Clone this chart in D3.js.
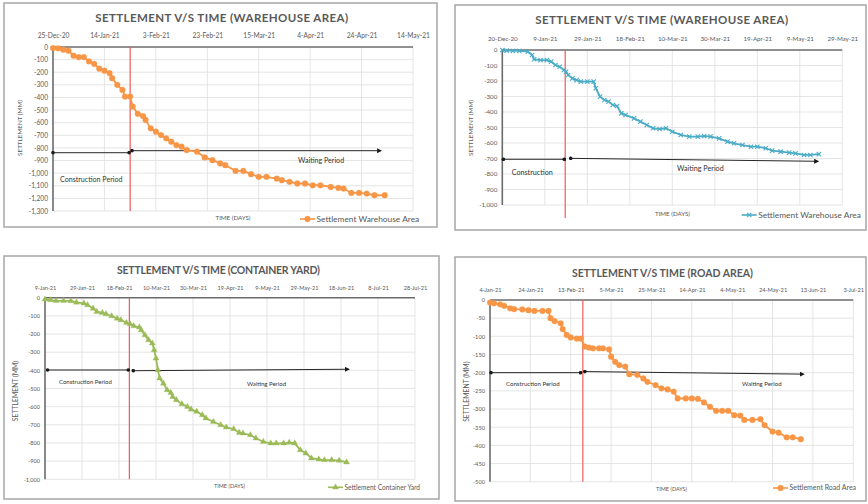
<!DOCTYPE html>
<html><head><meta charset="utf-8">
<script src="https://cdn.jsdelivr.net/npm/d3@7"></script>
<style>
body{margin:0;background:#fff}
svg{display:block}
text{font-family:Lato,"Open Sans",sans-serif}
</style>
</head><body>
<svg id="c" width="868" height="504"></svg>
<script>
// ---------------- DATA ----------------
// Panel 1: Warehouse area (orange)
const p1Title = "SETTLEMENT V/S TIME (WAREHOUSE AREA)";
const p1Series = "Settlement Warehouse Area";
const p1Ticks = ["25-Dec-20","14-Jan-21","3-Feb-21","23-Feb-21","15-Mar-21","4-Apr-21","24-Apr-21","14-May-21"];
const p1YDomain = [0, -1300, 100];
const p1Days = [0,2,4,6,8,10,12,14,16,18,20,22,23,25,27,28,30,31,33,35,36,38,40,42,44,46,48,50,52,56,59,62,65,67,71,74,77,80,83,87,89,92,95,98,101,104,108,111,113,116,119,122,125,129];
const p1Vals = [-8,-10,-21,-29,-69,-80,-80,-114,-133,-172,-188,-207,-247,-300,-340,-393,-393,-472,-530,-547,-578,-645,-671,-698,-724,-751,-777,-790,-817,-830,-875,-897,-923,-937,-982,-982,-1008,-1029,-1029,-1043,-1056,-1069,-1082,-1082,-1096,-1096,-1109,-1117,-1122,-1157,-1157,-1162,-1175,-1175];
const p1Split = 30;
const p1Periods = [["Construction Period",0,29.6,-838,-838],["Waiting Period",30.7,127.4,-822,-822]];

// Panel 2: Warehouse area (cyan)
const p2Title = "SETTLEMENT V/S TIME (WAREHOUSE AREA)";
const p2Series = "Settlement Warehouse Area";
const p2Ticks = ["20-Dec-20","9-Jan-21","29-Jan-21","18-Feb-21","10-Mar-21","30-Mar-21","19-Apr-21","9-May-21","29-May-21"];
const p2YDomain = [0, -1000, 100];
const p2Days = [0,2,5,8,12,14,15,18,21,23,25,27,29,30,31,33,35,37,40,43,44,46,48,50,52,54,56,58,62,65,68,71,74,77,80,84,88,92,95,98,102,106,109,113,117,120,124,127,131,135,138,142,145,149];
const p2Vals = [0,-4,-6,-6,-11,-32,-60,-65,-65,-75,-97,-108,-129,-140,-161,-183,-194,-204,-204,-204,-247,-301,-323,-333,-355,-361,-409,-419,-441,-462,-484,-505,-510,-505,-527,-548,-559,-559,-555,-559,-570,-591,-602,-613,-624,-624,-634,-649,-656,-662,-667,-677,-677,-672];
const p2Split = 29.6;
const p2Periods = [["Construction",0.5,29.2,-705,-705],["Waiting Period",32.2,148.4,-699,-718]];

// Panel 3: Container yard (green)
const p3Title = "SETTLEMENT V/S TIME (CONTAINER YARD)";
const p3Series = "Settlement Container Yard";
const p3Ticks = ["9-Jan-21","29-Jan-21","18-Feb-21","10-Mar-21","30-Mar-21","19-Apr-21","9-May-21","29-May-21","18-Jun-21","8-Jul-21","28-Jul-21"];
const p3YDomain = [0, -1000, 100];
const p3Days = [0,3,6,10,14,17,21,23,26,28,31,33,36,39,41,44,46,48,51,52,54,56,58,59,60,61,62,64,66,68,69,71,74,77,79,82,85,87,91,95,98,102,105,107,111,114,118,122,125,129,132,135,138,141,144,148,151,155,159,163];
const p3Vals = [-9,-13,-17,-17,-18,-26,-31,-40,-59,-77,-83,-90,-101,-114,-123,-138,-145,-156,-163,-178,-206,-233,-251,-288,-334,-398,-444,-472,-508,-523,-545,-563,-585,-600,-615,-627,-646,-664,-683,-701,-714,-723,-743,-747,-756,-774,-793,-802,-802,-802,-798,-802,-839,-857,-884,-890,-894,-894,-897,-906];
const p3Split = 45.6;
const p3Periods = [["Construction Period",1.4,45,-398,-398],["Waiting Period",47.7,164,-402,-394]];

// Panel 4: Road area (orange)
const p4Title = "SETTLEMENT V/S TIME (ROAD AREA)";
const p4Series = "Settlement Road Area";
const p4Ticks = ["4-Jan-21","24-Jan-21","13-Feb-21","5-Mar-21","25-Mar-21","14-Apr-21","4-May-21","24-May-21","13-Jun-21","3-Jul-21"];
const p4YDomain = [0, -500, 50];
const p4Days = [0,2,5,7,10,12,16,19,22,26,29,30,32,35,36,38,40,43,45,47,49,51,54,56,59,60,62,64,67,69,73,76,78,82,85,88,91,93,97,100,103,106,109,112,115,118,121,124,126,130,134,136,140,143,147,150,154];
const p4Vals = [-7,-9,-12,-16,-23,-25,-26,-28,-30,-30,-30,-50,-58,-64,-80,-96,-103,-106,-106,-128,-131,-133,-133,-133,-136,-156,-170,-179,-183,-204,-206,-216,-225,-234,-243,-246,-252,-271,-271,-271,-272,-282,-294,-305,-305,-305,-317,-318,-330,-330,-328,-344,-362,-365,-378,-378,-383];
const p4Split = 46;
const p4Periods = [["Construction Period",0.5,44.9,-200,-200],["Waiting Period",47,155.2,-197,-204]];

const yTitleText = "SETTLEMENT (MM)";
const xTitleText = "TIME (DAYS)";

// ---------------- LAYOUT ----------------
const panels = [
  {title:p1Title, series:p1Series, ticks:p1Ticks, yd:p1YDomain, days:p1Days, vals:p1Vals, split:p1Split, periods:p1Periods,
   color:"#f79646", marker:"circle",
   L:{box:[4,3,433,224], x0:53, x1:413, y0:47, y1:211, tickY:36, title:[221.7,17.5,253,11.5], yTitle:[20,128],
      xTitle:[233,217.5], legend:[300,219], redBottom:211, labels:[[60,180],[298,161]],
      fs:{tick:6.6,leg:8.4,lab:7.1,small:6.2,ytitle:6.3}}},
  {title:p2Title, series:p2Series, ticks:p2Ticks, yd:p2YDomain, days:p2Days, vals:p2Vals, split:p2Split, periods:p2Periods,
   color:"#4bacc6", marker:"x",
   L:{box:[455,5,411,225], x0:502.3, x1:842.3, y0:50, y1:205, tickY:39, title:[661.7,20,253,11.5], yTitle:[470.7,128],
      xTitle:[672.5,213.5], legend:[741.7,215], redBottom:218, labels:[[511.7,172],[677,168]],
      fs:{tick:6.2,leg:8.4,lab:7.2,small:6.2,ytitle:6.3}}},
  {title:p3Title, series:p3Series, ticks:p3Ticks, yd:p3YDomain, days:p3Days, vals:p3Vals, split:p3Split, periods:p3Periods,
   color:"#9bbb59", marker:"triangle",
   L:{box:[4,256,435,243], x0:45, x1:415, y0:297.7, y1:479.3, tickY:287.3, title:[218.5,270,203,10.5], yTitle:[16,391],
      xTitle:[229.5,486], legend:[328,487.3], redBottom:479.3, labels:[[59,381.7],[247,384]],
      fs:{tick:5.6,leg:6.6,lab:6,small:5.5,ytitle:6.8}}},
  {title:p4Title, series:p4Series, ticks:p4Ticks, yd:p4YDomain, days:p4Days, vals:p4Vals, split:p4Split, periods:p4Periods,
   color:"#f79646", marker:"circle",
   L:{box:[455,257,411,244], x0:490, x1:853.3, y0:300, y1:481.7, tickY:290, title:[662.5,273.3,181,10.5], yTitle:[466.7,391.7],
      xTitle:[671.5,488.7], legend:[773,488], redBottom:481.7, labels:[[506,384],[742,384]],
      fs:{tick:5.7,leg:7,lab:6.1,small:5.5,ytitle:6.8}}}
];

// ---------------- DRAW ----------------
const svg = d3.select("#c");
const parse = d3.utcParse("%d-%b-%y");
const fmtX = d3.utcFormat("%-d-%b-%y");
const fmtY = d3.formatLocale({decimal:".",thousands:",",grouping:[3],currency:["",""],minus:"-"}).format(",");
const DAY = 864e5;

const defs = svg.append("defs");
defs.append("marker").attr("id","arrowEnd").attr("viewBox","0 0 10 10").attr("refX",7).attr("refY",5)
  .attr("markerWidth",5).attr("markerHeight",5).attr("orient","auto")
  .append("path").attr("d","M0,0L10,5L0,10z").attr("fill","#1a1a1a");
defs.append("marker").attr("id","dot").attr("viewBox","0 0 10 10").attr("refX",5).attr("refY",5)
  .attr("markerWidth",4).attr("markerHeight",4)
  .append("circle").attr("cx",5).attr("cy",5).attr("r",4.5).attr("fill","#1a1a1a");

function symFor(m){
  if(m==="circle") return d3.symbol(d3.symbolCircle, 26);
  if(m==="x") return d3.symbol(d3.symbolTimes, 14);
  return d3.symbol(d3.symbolTriangle, 16);
}

panels.forEach(p => {
  const L = p.L;
  const g = svg.append("g");
  g.append("rect").attr("x",L.box[0]).attr("y",L.box[1]).attr("width",L.box[2]).attr("height",L.box[3])
    .attr("fill","#fff").attr("stroke","#a6a6a6").attr("stroke-width",1.5);

  const tickDates = p.ticks.map(parse);
  const start = tickDates[0];
  const toDate = d => new Date(start.getTime() + d*DAY);
  const x = d3.scaleUtc().domain([start, tickDates[tickDates.length-1]]).range([L.x0, L.x1]);
  const y = d3.scaleLinear().domain([p.yd[0], p.yd[1]]).range([L.y0, L.y1]);
  const yTicks = d3.range(p.yd[0], p.yd[1] - p.yd[2]/2, -p.yd[2]);

  // grid
  g.append("g").selectAll("line").data(yTicks.slice(1)).join("line")
    .attr("x1",L.x0).attr("x2",L.x1).attr("y1",d=>y(d)).attr("y2",d=>y(d))
    .attr("stroke","#dedede").attr("stroke-width",0.8);
  g.append("g").selectAll("line").data(tickDates.slice(1)).join("line")
    .attr("x1",d=>x(d)).attr("x2",d=>x(d)).attr("y1",L.y0).attr("y2",L.y1)
    .attr("stroke","#dedede").attr("stroke-width",0.8);

  // axes labels
  const xa = g.append("g").attr("transform",`translate(0,${L.y0})`)
    .call(d3.axisTop(x).tickValues(tickDates).tickFormat(fmtX).tickSize(0).tickPadding(L.y0-L.tickY-2.2));
  xa.select(".domain").remove();
  xa.selectAll("text").attr("fill","#595959").attr("font-size",L.fs.tick).attr("font-family","Lato,'Open Sans',sans-serif");
  const ya = g.append("g").attr("transform",`translate(${L.x0},0)`)
    .call(d3.axisLeft(y).tickValues(yTicks).tickFormat(fmtY).tickSize(0).tickPadding(5));
  ya.select(".domain").remove();
  ya.selectAll("text").attr("fill","#595959").attr("font-size",L.fs.tick).attr("font-family","Lato,'Open Sans',sans-serif");

  // axis lines
  g.append("line").attr("x1",L.x0).attr("x2",L.x1).attr("y1",y(0)).attr("y2",y(0))
    .attr("stroke","#6b6b6b").attr("stroke-width",1.6);
  g.append("line").attr("x1",L.x0).attr("x2",L.x0).attr("y1",L.y0).attr("y2",L.y1)
    .attr("stroke","#6b6b6b").attr("stroke-width",1.6);

  // title
  g.append("text").attr("x",L.title[0]).attr("y",L.title[1]).attr("dy","0.35em").attr("text-anchor","middle")
    .attr("font-size",L.title[3]).attr("font-weight","bold").attr("fill","#595959")
    .attr("textLength",L.title[2]).attr("lengthAdjust","spacing").text(p.title);

  // axis titles
  g.append("text").attr("transform",`translate(${L.yTitle[0]},${L.yTitle[1]}) rotate(-90)`).attr("dy","0.35em")
    .attr("text-anchor","middle").attr("font-size",L.fs.ytitle).attr("fill","#595959").text(yTitleText);
  g.append("text").attr("x",L.xTitle[0]).attr("y",L.xTitle[1]).attr("dy","0.35em").attr("text-anchor","middle")
    .attr("font-size",L.fs.small).attr("fill","#595959").text(xTitleText);

  // red split line
  g.append("line").attr("x1",x(toDate(p.split))).attr("x2",x(toDate(p.split)))
    .attr("y1",L.y0).attr("y2",L.redBottom).attr("stroke","#f05a5a").attr("stroke-width",1.2);

  // period arrows
  p.periods.forEach((pr,i) => {
    g.append("line").attr("x1",x(toDate(pr[1]))).attr("x2",x(toDate(pr[2])))
      .attr("y1",y(pr[3])).attr("y2",y(pr[4])).attr("stroke","#262626").attr("stroke-width",1)
      .attr("marker-start","url(#dot)").attr("marker-end", i===0 ? "url(#dot)" : "url(#arrowEnd)");
    g.append("text").attr("x",L.labels[i][0]).attr("y",L.labels[i][1]).attr("dy","0.35em")
      .attr("font-size",L.fs.lab).attr("fill","#333").text(pr[0]);
  });

  // series
  const pts = p.days.map((d,i)=>({d:toDate(d), v:p.vals[i]}));
  g.append("path").datum(pts).attr("fill","none").attr("stroke",p.color).attr("stroke-width",1.8)
    .attr("d", d3.line().x(d=>x(d.d)).y(d=>y(d.v)));
  const sym = symFor(p.marker);
  g.append("g").selectAll("path").data(pts).join("path")
    .attr("transform",d=>`translate(${x(d.d)},${y(d.v)})`).attr("d",sym)
    .attr("fill",p.color).attr("stroke",p.color).attr("stroke-width",p.marker==="x"?1.1:0.3);

  // legend
  const lx = L.legend[0], ly = L.legend[1];
  g.append("line").attr("x1",lx).attr("x2",lx+15).attr("y1",ly).attr("y2",ly)
    .attr("stroke",p.color).attr("stroke-width",1.6);
  g.append("path").attr("transform",`translate(${lx+7.5},${ly})`).attr("d",sym)
    .attr("fill",p.color).attr("stroke",p.color).attr("stroke-width",p.marker==="x"?1.1:0.3);
  g.append("text").attr("x",lx+16.5).attr("y",ly).attr("dy","0.35em")
    .attr("font-size",L.fs.leg).attr("fill","#595959").text(p.series);
});
</script>
</body></html>
